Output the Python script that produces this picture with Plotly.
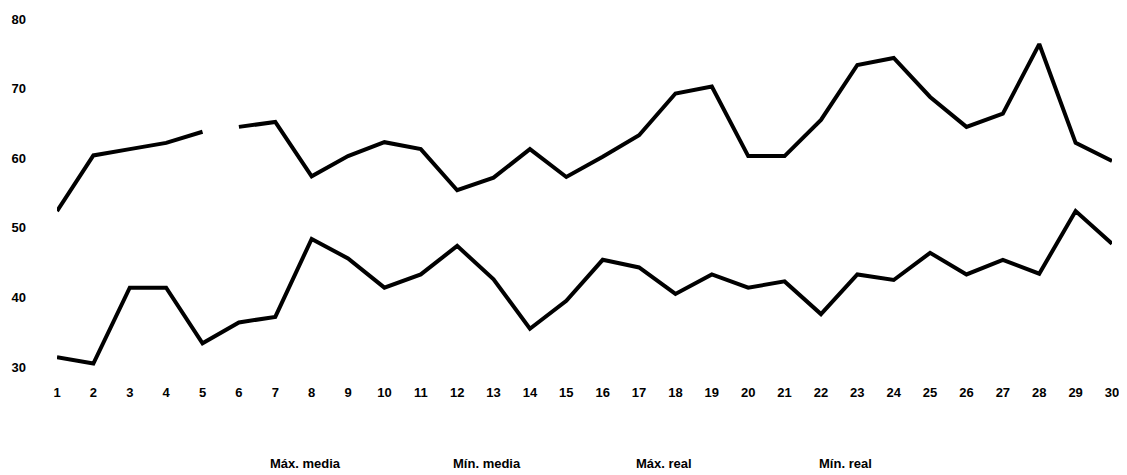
import plotly.graph_objects as go

days = list(range(1, 31))
max_values = [52.4, 60.4, 61.3, 62.2, 63.8, 64.5, 65.2, 57.4, 60.3, 62.3,
              61.3, 55.4, 57.2, 61.3, 57.3, 60.2, 63.3, 69.3, 70.3, 60.3,
              60.3, 65.5, 73.4, 74.4, 68.8, 64.5, 66.4, 76.4, 62.2, 59.6]
min_values = [31.4, 30.5, 41.4, 41.4, 33.4, 36.4, 37.2, 48.4, 45.6, 41.4,
              43.3, 47.4, 42.6, 35.5, 39.5, 45.4, 44.3, 40.5, 43.3, 41.4,
              42.3, 37.6, 43.3, 42.5, 46.4, 43.3, 45.4, 43.4, 52.4, 47.7]
max_gap_after = 5  # the maximum line is interrupted between day 5 and day 6
legend_labels = ["Máx. media", "Mín. media", "Máx. real", "Mín. real"]
y_ticks = [30, 40, 50, 60, 70, 80]

fig = go.Figure()
line_style = dict(color="black", width=4)

fig.add_trace(go.Scatter(x=days[:max_gap_after], y=max_values[:max_gap_after],
                         mode="lines", line=line_style, showlegend=False))
fig.add_trace(go.Scatter(x=days[max_gap_after:], y=max_values[max_gap_after:],
                         mode="lines", line=line_style, showlegend=False))
fig.add_trace(go.Scatter(x=days, y=min_values, mode="lines", line=line_style,
                         showlegend=False))

for lab in legend_labels:
    fig.add_trace(go.Scatter(x=[None], y=[None], mode="lines", name=lab,
                             line=dict(color="rgba(0,0,0,0)", width=0)))

font = dict(family="Liberation Sans, Arial, sans-serif", size=13, color="black", weight="bold")

fig.update_layout(
    width=1119, height=467,
    margin=dict(l=49, r=15, t=11, b=108, autoexpand=False),
    paper_bgcolor="white", plot_bgcolor="white",
    font=font,
    legend=dict(orientation="h", x=0.164, xanchor="left", y=-0.276, yanchor="middle",
                entrywidth=138, entrywidthmode="pixels", font=font,
                itemwidth=30, bgcolor="rgba(0,0,0,0)"),
    xaxis=dict(range=[1, 30], tickvals=days, showgrid=False, zeroline=False,
               showline=False, ticks="", tickfont=font, ticklabelstandoff=16),
    yaxis=dict(range=[30, 80], tickvals=y_ticks, showgrid=False, zeroline=False,
               showline=False, ticks="", tickfont=font, ticklabelstandoff=30),
)

fig.write_html("out.html")
